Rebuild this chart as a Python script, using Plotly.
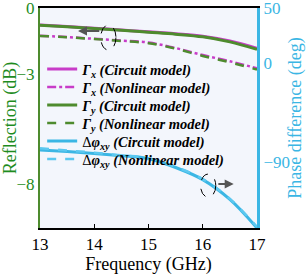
import plotly.graph_objects as go

freq = [13.0, 13.5, 14.0, 14.5, 15.0, 15.5, 16.0, 16.5, 17.0]
gx_circuit = [-0.77, -0.84, -0.92, -1.00, -1.08, -1.17, -1.28, -1.50, -1.83]
gx_nonlin = [-1.26, -1.32, -1.40, -1.48, -1.57, -1.82, -2.14, -2.42, -2.74]
gy_circuit = [-0.78, -0.85, -0.93, -1.01, -1.10, -1.19, -1.31, -1.54, -1.88]
gy_nonlin = [-1.27, -1.33, -1.41, -1.50, -1.60, -1.85, -2.18, -2.47, -2.80]
ph_circuit = [-79.0, -80.5, -82.3, -84.3, -87.0, -95.0, -106.0, -124.0, -150.0]
ph_nonlin = [-77.5, -79.5, -81.5, -84.0, -86.5, -94.5, -105.5, -123.5, -149.0]

left_ticks = [0, -3, -8]
right_ticks = [50, 0, -90]
x_ticks = [13, 14, 15, 16, 17]

MAG = "#C83CC8"
GRN = "#4E8B2E"
CYA = "#3BB6E4"
CYA2 = "#5CC8F0"
GTXT = "#1E8C1E"
SERIF = "Liberation Serif"

series = [
    (gx_circuit, "y", MAG, 3, "solid", "<b><i>Γ<sub>x</sub> (Circuit model)</i></b>"),
    (gx_nonlin, "y", MAG, 2.5, "dashdot", "<b><i>Γ<sub>x</sub> (Nonlinear model)</i></b>"),
    (gy_circuit, "y", GRN, 3, "solid", "<b><i>Γ<sub>y</sub> (Circuit model)</i></b>"),
    (gy_nonlin, "y", GRN, 2.5, "dash", "<b><i>Γ<sub>y</sub> (Nonlinear model)</i></b>"),
    (ph_circuit, "y2", CYA, 3, "solid", "Δ<b><i>φ<sub>xy</sub> (Circuit model)</i></b>"),
    (ph_nonlin, "y2", CYA2, 2.5, "dash", "Δ<b><i>φ<sub>xy</sub> (Nonlinear model)</i></b>"),
]

fig = go.Figure()
legend_layouts = {}
row_centers_px = [69, 87, 105, 123, 141, 159]
plot_top, plot_bottom = 8, 228
for i, (vals, yax, col, w, dash, name) in enumerate(series):
    key = "legend" if i == 0 else f"legend{i + 1}"
    fig.add_trace(go.Scatter(x=freq, y=vals, mode="lines", yaxis=yax,
                             line=dict(color=col, width=w, dash=dash, shape="spline"),
                             name=name, legend=key))
    legend_layouts[key] = dict(
        x=0.01, y=(plot_bottom - row_centers_px[i]) / (plot_bottom - plot_top),
        xanchor="left", yanchor="middle", bgcolor="rgba(0,0,0,0)",
        font=dict(family=SERIF, size=14.5, color="black"), itemwidth=30)

shapes = [
    dict(type="circle", xref="x", yref="y", x0=14.12, x1=14.40, y0=-0.77, y1=-1.91,
         line=dict(color="black", width=1, dash="dash")),
    dict(type="circle", xref="x", yref="y2", x0=15.96, x1=16.24, y0=-101, y1=-122,
         line=dict(color="black", width=1, dash="dash")),
]
annotations = [
    dict(x=13.70, y=-1.05, xref="x", yref="y", ax=14.12, ay=-1.05, axref="x", ayref="y",
         showarrow=True, arrowhead=2, arrowsize=0.9, arrowwidth=2, arrowcolor="#555555", text=""),
    dict(x=16.57, y=-110, xref="x", yref="y2", ax=16.26, ay=-110, axref="x", ayref="y2",
         showarrow=True, arrowhead=2, arrowsize=0.9, arrowwidth=2, arrowcolor="#555555", text=""),
]

fig.update_layout(
    width=306, height=277,
    margin=dict(l=40, r=49, t=8, b=49),
    paper_bgcolor="white",
    plot_bgcolor="#F3F6FC",
    font=dict(family=SERIF, size=16, color="black"),
    showlegend=True,
    xaxis=dict(range=[13, 17], tickvals=x_ticks, ticks="inside", ticklen=4, tickcolor="black",
               showline=True, linecolor="black", linewidth=2, mirror=True, showgrid=False, zeroline=False,
               automargin=False, ticklabeloverflow="allow",
               title=dict(text="Frequency (GHz)", font=dict(family=SERIF, size=18), standoff=4),
               tickfont=dict(family=SERIF, size=17)),
    yaxis=dict(range=[-10, 0], tickvals=left_ticks, ticks="", showline=True, linecolor=GRN, linewidth=2,
               showgrid=False, zeroline=False, automargin=False, ticklabeloverflow="allow",
               title=dict(text="Reflection (dB)", font=dict(family=SERIF, size=18, color=GTXT), standoff=2),
               tickfont=dict(family=SERIF, size=17, color=GTXT)),
    yaxis2=dict(range=[-150, 50], tickvals=right_ticks, overlaying="y", side="right", ticks="",
                showline=True, linecolor=CYA, linewidth=3, showgrid=False, zeroline=False, automargin=False,
                ticklabeloverflow="allow",
                title=dict(text="Phase difference (deg)", font=dict(family=SERIF, size=18, color=CYA), standoff=4),
                tickfont=dict(family=SERIF, size=17, color=CYA)),
    shapes=shapes,
    annotations=annotations,
    **legend_layouts,
)

fig.write_html("out.html", config={"displayModeBar": False},
               post_script="document.body.style.margin='0';document.body.style.overflow='hidden';")
